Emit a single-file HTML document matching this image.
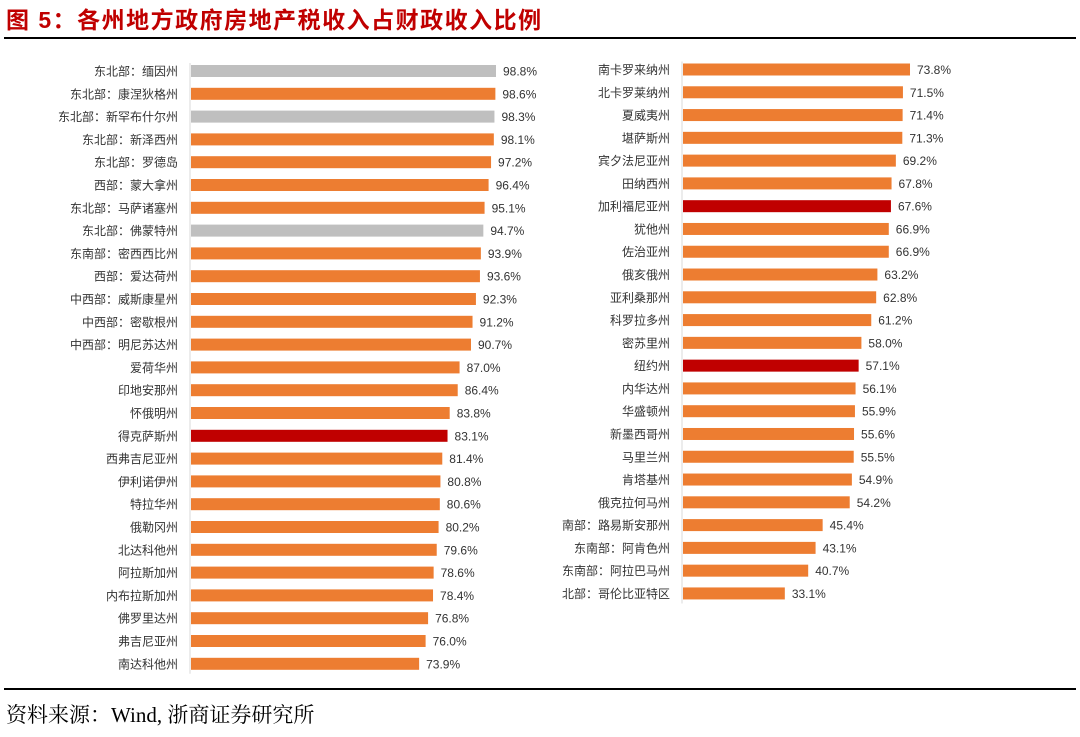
<!DOCTYPE html>
<html><head><meta charset="utf-8"><style>
body{margin:0;background:#fff;width:1080px;height:732px;overflow:hidden;font-family:"Liberation Sans","Noto Sans CJK SC",sans-serif}
</style></head><body>
<svg id="c" width="1080" height="732" xmlns="http://www.w3.org/2000/svg">
<text x="6" y="28" font-size="23" font-weight="bold" fill="#c00000" font-family="Liberation Sans,Noto Sans CJK SC,sans-serif" letter-spacing="1.5">图 5：各州地方政府房地产税收入占财政收入比例</text>
<rect x="4" y="37" width="1072" height="2" fill="#000"/>
<rect x="4" y="688" width="1072" height="2" fill="#000"/>
<text x="6" y="722" font-size="21" fill="#000" font-family="Liberation Serif,Noto Serif CJK SC,serif">资料来源：Wind, 浙商证券研究所</text>
<g id="L"></g><g id="R"></g>
</svg>
<script>
const leftCats=["东北部：缅因州","东北部：康涅狄格州","东北部：新罕布什尔州","东北部：新泽西州","东北部：罗德岛","西部：蒙大拿州","东北部：马萨诸塞州","东北部：佛蒙特州","东南部：密西西比州","西部：爱达荷州","中西部：威斯康星州","中西部：密歇根州","中西部：明尼苏达州","爱荷华州","印地安那州","怀俄明州","得克萨斯州","西弗吉尼亚州","伊利诺伊州","特拉华州","俄勒冈州","北达科他州","阿拉斯加州","内布拉斯加州","佛罗里达州","弗吉尼亚州","南达科他州"];
const leftVals=[98.8,98.6,98.3,98.1,97.2,96.4,95.1,94.7,93.9,93.6,92.3,91.2,90.7,87.0,86.4,83.8,83.1,81.4,80.8,80.6,80.2,79.6,78.6,78.4,76.8,76.0,73.9];
const leftType=["g","o","g","o","o","o","o","g","o","o","o","o","o","o","o","o","r","o","o","o","o","o","o","o","o","o","o"];
const rightCats=["南卡罗来纳州","北卡罗莱纳州","夏威夷州","堪萨斯州","宾夕法尼亚州","田纳西州","加利福尼亚州","犹他州","佐治亚州","俄亥俄州","亚利桑那州","科罗拉多州","密苏里州","纽约州","内华达州","华盛顿州","新墨西哥州","马里兰州","肯塔基州","俄克拉何马州","南部：路易斯安那州","东南部：阿肯色州","东南部：阿拉巴马州","北部：哥伦比亚特区"];
const rightVals=[73.8,71.5,71.4,71.3,69.2,67.8,67.6,66.9,66.9,63.2,62.8,61.2,58.0,57.1,56.1,55.9,55.6,55.5,54.9,54.2,45.4,43.1,40.7,33.1];
const rightType=["o","o","o","o","o","o","r","o","o","o","o","o","o","r","o","o","o","o","o","o","o","o","o","o"];
const col={o:"#ed7d31",g:"#bfbfbf",r:"#c00000"};
const NS="http://www.w3.org/2000/svg";
function panel(gid,cats,vals,types,x0,y0,step,scale){
  const g=document.getElementById(gid);
  const ax=document.createElementNS(NS,"line");
  
  
  ax.setAttribute("x1",x0);ax.setAttribute("x2",x0);ax.setAttribute("y1",y0-8);ax.setAttribute("y2",y0+step*(cats.length-1)+10);
  ax.setAttribute("stroke","#d9d9d9");g.appendChild(ax);
  cats.forEach((c,i)=>{
    const yc=y0+i*step;
    const t=document.createElementNS(NS,"text");
    
    
    t.setAttribute("x",x0-12);t.setAttribute("y",yc+4.5);t.setAttribute("text-anchor","end");
    t.setAttribute("font-size","12");t.setAttribute("fill","#333");t.textContent=c;g.appendChild(t);
    const r=document.createElementNS(NS,"rect");
    
    
    const w=vals[i]*scale;
    r.setAttribute("x",x0+1);r.setAttribute("y",yc-6);r.setAttribute("width",w);r.setAttribute("height",12);
    r.setAttribute("fill",col[types[i]]);g.appendChild(r);
    const v=document.createElementNS(NS,"text");
    
    
    v.setAttribute("x",x0+w+8);v.setAttribute("y",yc+4.5);v.setAttribute("font-size","12");v.setAttribute("fill","#333");
    v.textContent=vals[i].toFixed(1)+"%";g.appendChild(v);
  });
}
panel("L",leftCats,leftVals,leftType,190,71,22.8,3.087);
panel("R",rightCats,rightVals,rightType,682,69.5,22.78,3.076);
</script>
</body></html>
